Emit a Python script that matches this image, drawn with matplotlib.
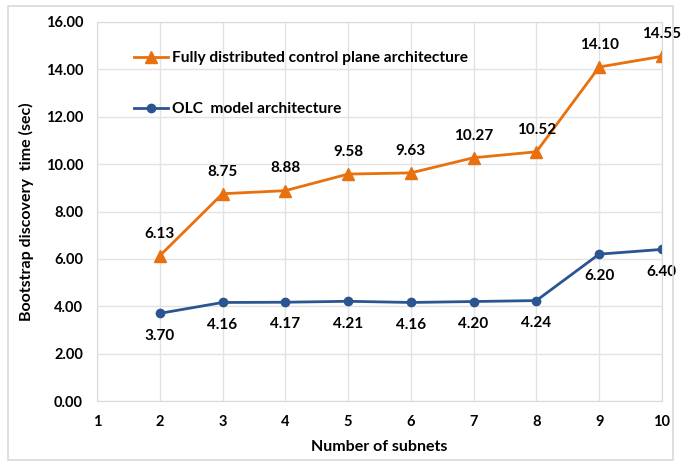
import matplotlib.pyplot as plt
from matplotlib.patches import Rectangle

plt.rcParams['font.family'] = ['Lato', 'DejaVu Sans']
plt.rcParams['font.weight'] = 'bold'

subnets = [2, 3, 4, 5, 6, 7, 8, 9, 10]
fully_distributed = [6.13, 8.75, 8.88, 9.58, 9.63, 10.27, 10.52, 14.10, 14.55]
olc_model = [3.70, 4.16, 4.17, 4.21, 4.16, 4.20, 4.24, 6.20, 6.40]

orange = '#E8700E'
blue = '#2B5590'

fig = plt.figure(figsize=(6.81, 4.65), dpi=100)
# outer frame round the chart
fig.patches.append(Rectangle((0.012, 0.01), 0.976, 0.978, transform=fig.transFigure,
                             fill=False, edgecolor='#D9D9D9', linewidth=1.2))
ax = fig.add_axes([0.1424, 0.1376, 0.8296, 0.8151])

ax.plot(subnets, fully_distributed, marker='^', markersize=8, color=orange, linewidth=2,
        label='Fully distributed control plane architecture')
ax.plot(subnets, olc_model, marker='o', markersize=6, color=blue, linewidth=2,
        label='OLC  model architecture')

# value labels: above the orange line, below the blue one
for x, y in zip(subnets, fully_distributed):
    ax.annotate(f'{y:.2f}', (x, y), xytext=(0, 16), textcoords='offset points',
                ha='center', va='center', fontsize=11, fontweight='bold',
                annotation_clip=False)
for x, y in zip(subnets, olc_model):
    ax.annotate(f'{y:.2f}', (x, y), xytext=(0, -16), textcoords='offset points',
                ha='center', va='center', fontsize=11, fontweight='bold',
                annotation_clip=False)

ax.set_xlim(1, 10)
ax.set_ylim(0, 16)
ax.set_xticks(range(1, 11))
ax.set_yticks(range(0, 17, 2))
ax.set_yticklabels([f'{v:.2f}' for v in range(0, 17, 2)])
ax.tick_params(length=0, labelsize=10.5, pad=10)
for lab in ax.get_xticklabels() + ax.get_yticklabels():
    lab.set_fontweight('bold')
ax.grid(True, color='#E3E3E3', linewidth=1)
for side in ['top', 'right', 'left', 'bottom']:
    ax.spines[side].set_color('#D9D9D9')

ax.set_xlabel('Number of subnets', fontsize=11.5, fontweight='bold', labelpad=8)
ax.set_ylabel('Bootstrap discovery  time (sec)', fontsize=11.5, fontweight='bold', labelpad=8)

leg = ax.legend(loc='upper left', bbox_to_anchor=(0.04, 0.96), frameon=False,
                fontsize=11.2, labelspacing=2.4, handlelength=2.2, handletextpad=0.3)
for t in leg.get_texts():
    t.set_fontweight('bold')

fig.savefig('out.png', dpi=100)
